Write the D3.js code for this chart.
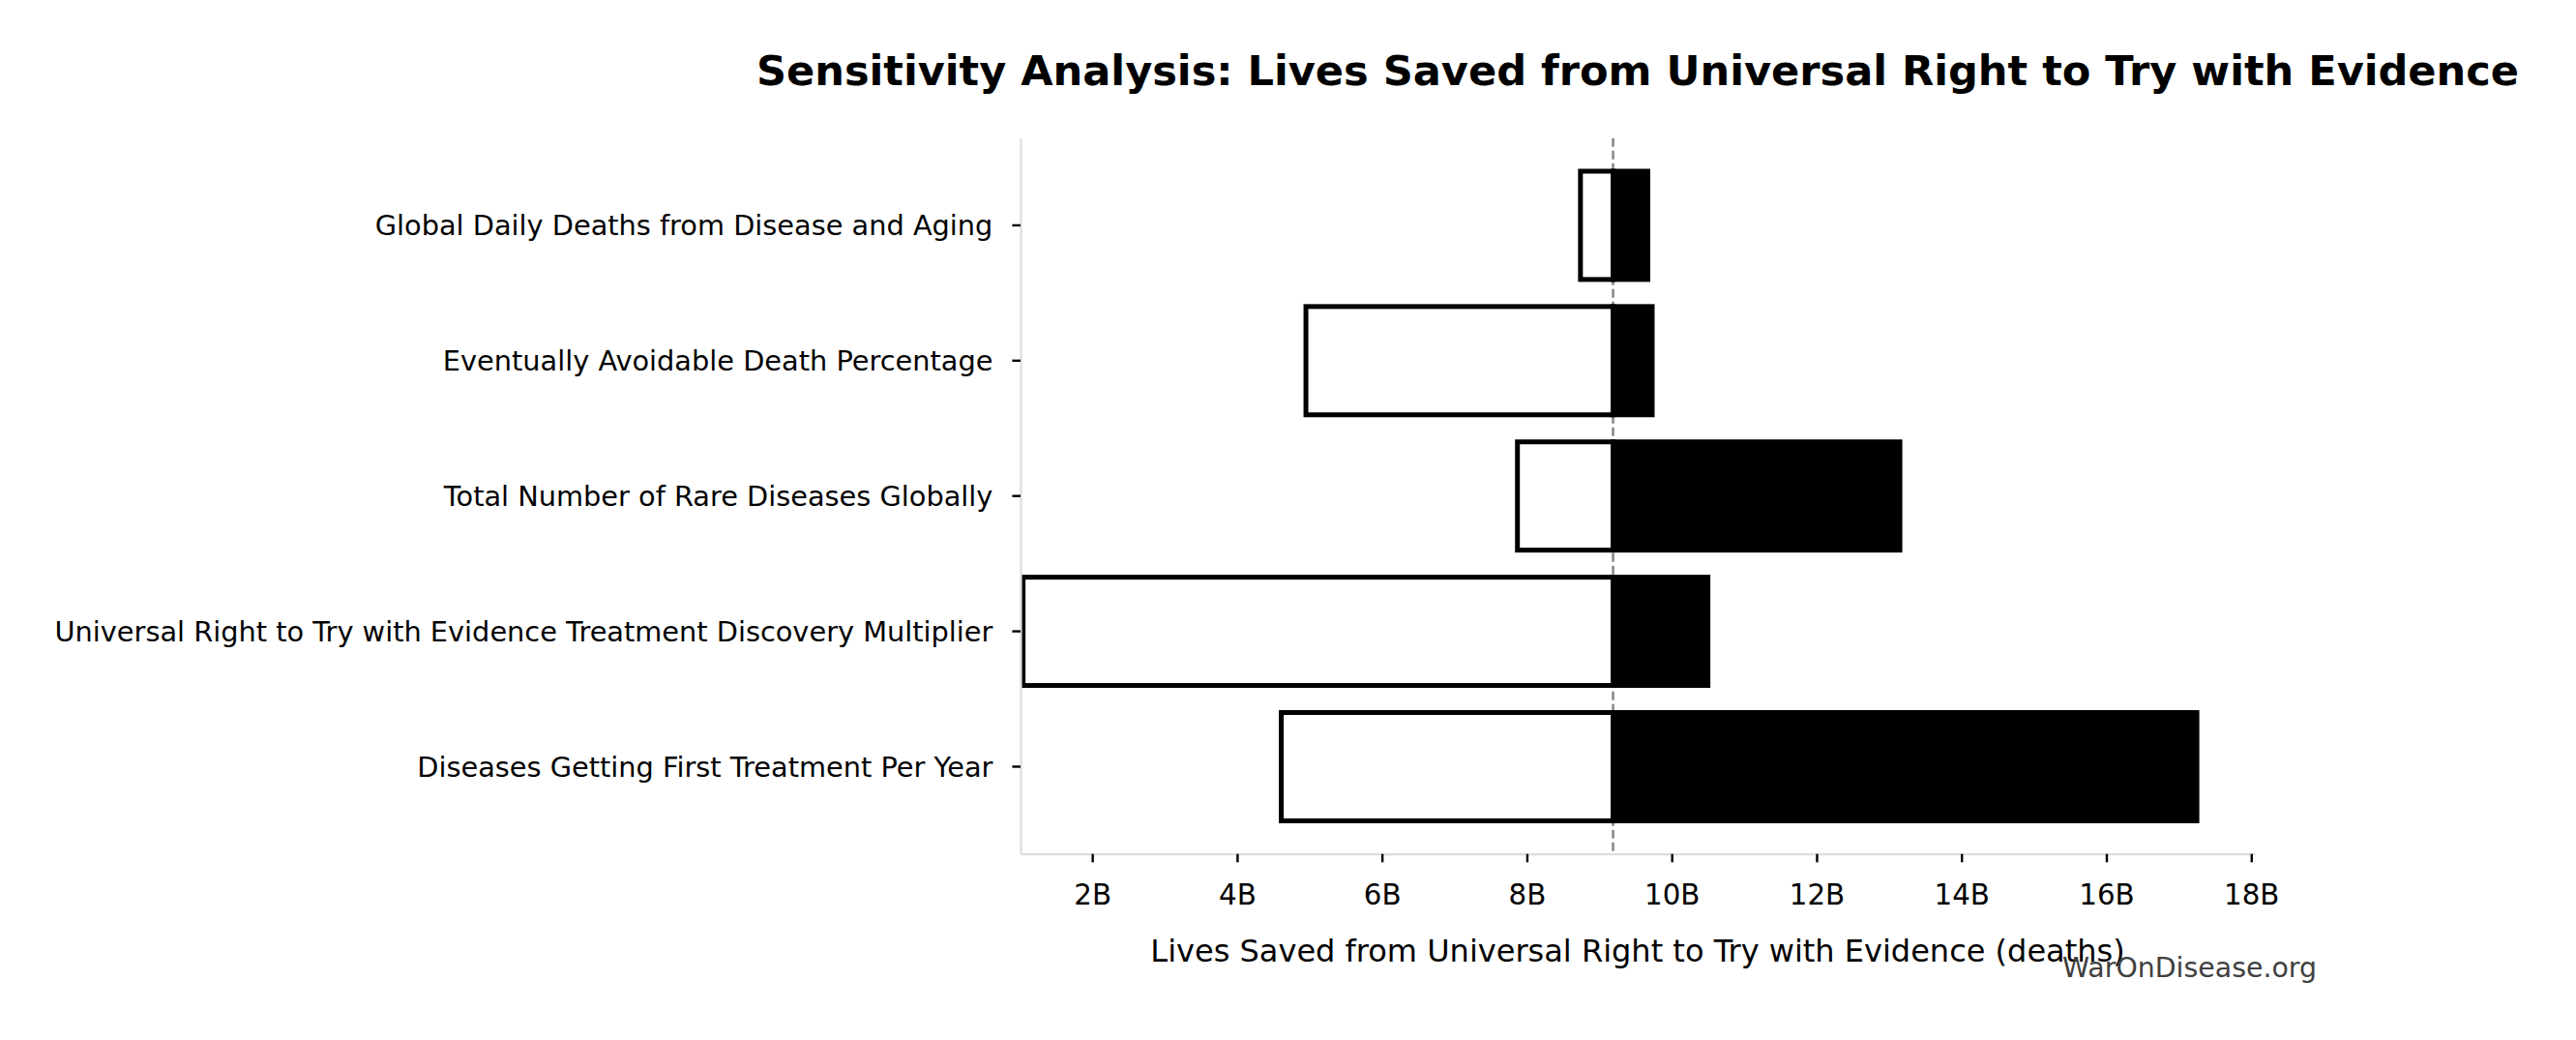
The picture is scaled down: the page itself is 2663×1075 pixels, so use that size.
<!DOCTYPE html>
<meta charset="utf-8">
<style>
body { margin: 0; background: #fff; }
svg text { font-family: "DejaVu Sans", sans-serif; }
.axis .domain { stroke: #dddddd; stroke-width: 2.2; }
.axis .tick line { stroke: #000; stroke-width: 2.4; }
.axis .tick text { fill: #000; }
</style>
<body>
<svg width="2663" height="1075"></svg>
<script src="https://cdnjs.cloudflare.com/ajax/libs/d3/7.8.5/d3.min.js"></script>
<script>

// parameters, top to bottom as drawn
var categories = [
  "Global Daily Deaths from Disease and Aging",
  "Eventually Avoidable Death Percentage",
  "Total Number of Rare Diseases Globally",
  "Universal Right to Try with Evidence Treatment Discovery Multiplier",
  "Diseases Getting First Treatment Per Year"
];
// lives saved, billions
var lowValues  = [8.74, 4.95, 7.87, 1.045, 4.61];
var highValues = [9.67, 9.73, 13.15, 10.5, 17.25];
var baseValue = 9.19;
var xTicks = [2, 4, 6, 8, 10, 12, 14, 16, 18];

var svg = d3.select("svg"),
    margin = {top: 142.7, right: 332, bottom: 192.3, left: 1055},
    W = +svg.attr("width"),
    H = +svg.attr("height"),
    width = W - margin.left - margin.right,
    height = H - margin.top - margin.bottom;

var x = d3.scaleLinear()
    .domain([1.01, 18.05])
    .range([margin.left, margin.left + width]);

var y = d3.scaleBand()
    .domain(categories)
    .range([margin.top, margin.top + height])
    .paddingInner(0.2)
    .paddingOuter(0.245);

svg.append("defs").append("clipPath")
    .attr("id", "plot")
  .append("rect")
    .attr("x", margin.left)
    .attr("y", margin.top)
    .attr("width", width)
    .attr("height", height);

var g = svg.append("g").attr("clip-path", "url(#plot)");

// baseline
g.append("line")
    .attr("x1", x(baseValue))
    .attr("x2", x(baseValue))
    .attr("y1", margin.top)
    .attr("y2", margin.top + height)
    .attr("stroke", "#808080")
    .attr("stroke-width", 2.4)
    .attr("stroke-dasharray", "9,4");

// low side (white) then high side (black)
g.selectAll(".low")
    .data(categories)
  .enter().append("rect")
    .attr("class", "low")
    .attr("x", function(d, i) { return x(lowValues[i]); })
    .attr("y", function(d) { return y(d); })
    .attr("width", function(d, i) { return x(baseValue) - x(lowValues[i]); })
    .attr("height", y.bandwidth())
    .attr("fill", "#fff")
    .attr("stroke", "#000")
    .attr("stroke-width", 5);

g.selectAll(".high")
    .data(categories)
  .enter().append("rect")
    .attr("class", "high")
    .attr("x", x(baseValue))
    .attr("y", function(d) { return y(d); })
    .attr("width", function(d, i) { return x(highValues[i]) - x(baseValue); })
    .attr("height", y.bandwidth())
    .attr("fill", "#000")
    .attr("stroke", "#000")
    .attr("stroke-width", 5);

// axes
svg.append("g")
    .attr("class", "axis")
    .attr("transform", "translate(0," + (margin.top + height) + ")")
    .call(d3.axisBottom(x)
      .tickValues(xTicks)
      .tickFormat(function(d) { return d + "B"; })
      .tickSize(8.6)
      .tickSizeOuter(0)
      .tickPadding(23))
    .attr("font-family", null)
    .attr("font-size", 29.3);

svg.append("g")
    .attr("class", "axis")
    .attr("transform", "translate(" + margin.left + ",0)")
    .call(d3.axisLeft(y)
      .tickSize(8.6)
      .tickSizeOuter(0)
      .tickPadding(20))
    .attr("font-family", null)
    .attr("font-size", 28.8)
    .call(function(a) { a.selectAll("text").attr("dy", "0.35em"); });

// titles
var cx = margin.left + width / 2;

svg.append("text")
    .attr("x", cx)
    .attr("y", 87.5)
    .attr("text-anchor", "middle")
    .attr("font-size", 43.1)
    .attr("font-weight", "bold")
    .text("Sensitivity Analysis: Lives Saved from Universal Right to Try with Evidence");

svg.append("text")
    .attr("x", cx)
    .attr("y", 994)
    .attr("text-anchor", "middle")
    .attr("font-size", 32)
    .text("Lives Saved from Universal Right to Try with Evidence (deaths)");

svg.append("text")
    .attr("x", 2395)
    .attr("y", 1010)
    .attr("text-anchor", "end")
    .attr("font-size", 28.4)
    .attr("fill", "#404040")
    .text("WarOnDisease.org");

</script>
</body>
